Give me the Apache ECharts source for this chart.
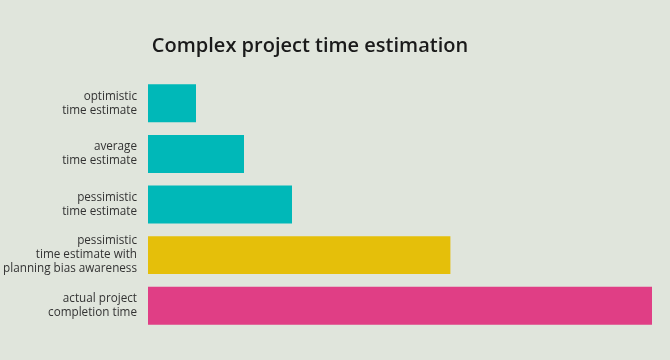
<!DOCTYPE html>
<html><head><meta charset="utf-8">
<script src="https://cdn.jsdelivr.net/npm/echarts@6/dist/echarts.min.js"></script>
<style>html,body{margin:0;padding:0;background:#e0e5dc}#c{width:670px;height:360px}</style>
</head><body><div id="c"></div>
<script>
var categories = ["optimistic\ntime estimate","average\ntime estimate","pessimistic\ntime estimate","pessimistic\ntime estimate with\nplanning bias awareness","actual project\ncompletion time"];
var values = [1, 2, 3, 6.3, 10.5];
var colors = ["#00b8b8","#00b8b8","#00b8b8","#e5bf0a","#e03e85"];
var chart = echarts.init(document.getElementById('c'));
chart.setOption({
  backgroundColor: '#e0e5dc',
  animation: false,
  title: {text: 'Complex project time estimation', left: 305, textAlign: 'center', top: 31,
    textStyle: {fontFamily: 'Open Sans', fontSize: 20, fontWeight: 600, color: '#1a1a1a'}},
  grid: {left: 148, top: 78, width: 504, height: 253, containLabel: false, outerBoundsMode: 'none'},
  xAxis: {type: 'value', min: 0, max: 10.5, show: false},
  yAxis: {type: 'category', inverse: true, data: categories,
    axisLine: {show: false}, axisTick: {show: false},
    axisLabel: {margin: 11, fontFamily: 'Open Sans', fontSize: 11.7, color: '#333', lineHeight: 14, align: 'right'}},
  series: [{type: 'bar', barCategoryGap: '25%',
    data: values.map(function(v, i){ return {value: v, itemStyle: {color: colors[i]}}; })}]
});
</script></body></html>
